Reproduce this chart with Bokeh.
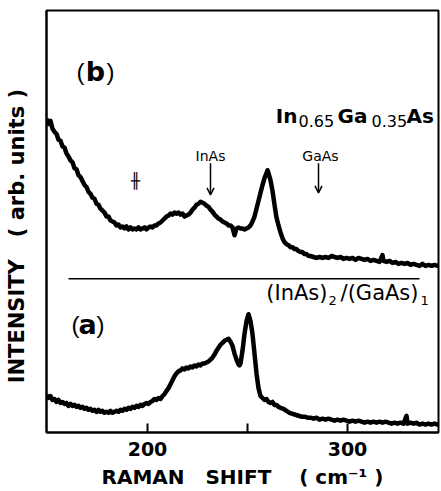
from bokeh.plotting import figure
from bokeh.models import Range1d, FixedTicker, Label, Arrow, OpenHead
from bokeh.embed import file_html
from bokeh.resources import INLINE

# ---------------- data ----------------
x_ticks = [200, 250, 300]
x_tick_labels = {200: "200", 250: "", 300: "300"}

# spectrum (b): In0.65Ga0.35As
b_shift = [149.5, 150.5, 151.5, 152.5, 153.5, 154.5, 155.5, 156.5, 157.5, 158.5, 159.5, 160.5,
           161.5, 162.5, 163.5, 164.5, 165.5, 166.5, 167.5, 168.5, 169.5, 170.5, 171.5, 172.5,
           173.5, 174.5, 175.5, 176.5, 177.5, 178.5, 179.5, 180.5, 181.5, 182.5, 183.5, 184.5,
           185.5, 186.5, 187.5, 188.5, 189.5, 190.5, 191.5, 192.5, 193.5, 194.5, 195.5, 196.5,
           197.5, 198.5, 199.5, 200.5, 201.5, 202.5, 203.5, 204.5, 205.5, 206.5, 207.5, 208.5,
           209.5, 210.5, 211.5, 212.5, 213.5, 214.5, 215.5, 216.5, 217.5, 218.5, 219.5, 220.5,
           221.5, 222.5, 223.5, 224.5, 225.5, 226.5, 227.5, 228.5, 229.5, 230.5, 231.5, 232.5,
           233.5, 234.5, 235.5, 236.5, 237.5, 238.5, 239.5, 240.5, 241.5, 242.5, 243.5, 244.5,
           245.5, 246.5, 247.5, 248.5, 249.5, 250.5, 251.5, 252.5, 253.5, 254.5, 255.5, 256.5,
           257.5, 258.5, 259.5, 260.0, 260.5, 261.5, 262.5, 263.5, 264.5, 265.5, 266.5, 267.5,
           268.5, 269.5, 270.5, 271.5, 272.5, 273.5, 274.5, 275.5, 276.5, 277.5, 278.5, 279.5,
           280.5, 281.5, 283.0, 284.5, 286.0, 287.5, 289.0, 290.5, 292.0, 293.5, 295.0, 296.5,
           298.0, 299.5, 301.0, 302.5, 304.0, 305.5, 307.0, 308.5, 310.0, 311.5, 313.0, 314.5,
           316.0, 317.5, 318.0, 319.5, 321.0, 322.5, 324.0, 325.5, 327.0, 328.5, 330.0, 331.5,
           333.0, 334.5, 336.0, 337.5, 339.0, 340.5, 342.0, 343.5, 345.0, 347.0]
b_intensity = [318, 313, 316, 308, 305, 303, 297, 296, 290, 289, 283, 280,
               276, 274, 268, 267, 261, 259, 255, 251, 249, 244, 242, 238,
               237, 232, 231, 227, 225, 223, 219, 219, 215, 214, 213, 210,
               211, 208, 209, 207, 209, 206, 208, 206, 207, 206, 208, 206,
               207, 208, 206, 208, 209, 208, 210, 210, 212, 213, 215, 217,
               219, 220, 222, 221, 223, 222, 223, 221, 222, 219, 220, 221,
               223, 226, 228, 231, 232, 234, 233, 232, 230, 229, 226, 224,
               221, 219, 217, 216, 214, 213, 212, 210, 210, 208, 200, 207,
               208, 207, 207, 206, 207, 208, 210, 214, 219, 227, 235, 243,
               251, 258, 263, 266, 263, 256, 245, 231, 218, 210, 203, 197,
               193, 191, 190, 188, 188, 186, 186, 184, 183, 183, 181, 181,
               179, 179, 178, 177, 178, 177, 178, 177, 179, 178, 177, 178,
               176, 177, 176, 177, 175, 177, 176, 175, 176, 174, 175, 174,
               173, 180, 174, 173, 174, 172, 173, 171, 172, 171, 172, 170,
               171, 170, 169, 171, 169, 170, 169, 170, 169, 170]

# spectrum (a): (InAs)2/(GaAs)1
a_shift = [149.5, 150.5, 151.5, 152.5, 153.5, 154.5, 155.5, 156.5, 157.5, 158.5, 159.5, 160.5,
           161.5, 162.5, 163.5, 164.5, 165.5, 166.5, 167.5, 168.5, 169.5, 170.5, 171.5, 172.5,
           173.5, 174.5, 175.5, 176.5, 177.5, 178.5, 179.5, 180.5, 181.5, 182.5, 183.5, 184.5,
           185.5, 186.5, 187.5, 188.5, 189.5, 190.5, 191.5, 192.5, 193.5, 194.5, 195.5, 196.5,
           197.5, 198.5, 199.5, 200.5, 201.5, 202.5, 203.5, 204.5, 205.5, 206.5, 207.5, 208.5,
           209.5, 210.5, 211.5, 212.5, 213.5, 214.5, 215.5, 216.5, 217.5, 218.5, 219.5, 220.5,
           221.5, 222.5, 223.5, 224.5, 225.5, 226.5, 227.5, 228.5, 229.5, 230.5, 231.5, 232.5,
           233.5, 234.5, 235.5, 236.5, 237.5, 238.5, 239.5, 240.5, 241.5, 242.5, 243.5, 244.5,
           245.5, 246.0, 246.5, 247.5, 248.5, 249.5, 250.5, 251.5, 252.5, 253.5, 254.5, 255.5,
           256.5, 257.5, 258.5, 259.5, 260.5, 261.5, 262.5, 263.5, 264.5, 265.5, 266.5, 268.0,
           269.5, 271.0, 272.5, 274.0, 275.5, 277.0, 278.5, 280.0, 281.5, 283.0, 284.5, 286.0,
           287.5, 289.0, 290.5, 292.0, 293.5, 295.0, 296.5, 298.0, 299.5, 301.0, 302.5, 304.0,
           305.5, 307.0, 308.5, 310.0, 311.5, 313.0, 314.5, 316.0, 317.5, 319.0, 320.5, 322.0,
           323.5, 325.0, 326.5, 328.0, 329.5, 330.0, 331.5, 333.0, 334.5, 336.0, 337.5, 339.0,
           340.5, 342.0, 343.5, 345.0, 347.0]
a_intensity = [38, 35, 37, 33, 34, 31, 33, 30, 31, 29, 30, 27,
               29, 27, 28, 26, 27, 25, 26, 24, 25, 23, 24, 22,
               23, 21, 23, 21, 22, 20, 21, 20, 22, 20, 21, 22,
               21, 23, 22, 24, 23, 25, 24, 26, 25, 27, 26, 28,
               27, 29, 30, 29, 31, 32, 34, 33, 35, 34, 37, 39,
               42, 45, 49, 53, 57, 60, 62, 63, 65, 64, 66, 65,
               67, 66, 68, 67, 69, 68, 70, 70, 71, 72, 74, 76,
               79, 83, 86, 89, 91, 93, 94, 95, 92, 88, 80, 74,
               69, 68, 70, 83, 100, 113, 120, 113, 100, 80, 60, 45,
               37, 35, 33, 34, 31, 30, 31, 28, 28, 26, 25, 24,
               22, 20, 19, 18, 17, 16, 16, 15, 15, 14, 15, 13,
               14, 13, 14, 13, 12, 13, 12, 13, 12, 11, 12, 11,
               12, 11, 10, 11, 10, 11, 10, 11, 10, 11, 10, 9,
               10, 9, 10, 9, 17, 9, 10, 9, 10, 8, 9, 8,
               9, 8, 9, 8, 8]

x_range = (149.5, 345.5)
y_range = (0, 428)

NB = "\u00a0"
x_title = "RAMAN" + NB * 3 + "SHIFT" + NB * 4 + "(" + NB + "cm\u207b\u00b9" + NB + ")"
y_title = "INTENSITY" + NB * 3 + "(" + NB + "arb. units" + NB + ")" + NB * 4

# ---------------- figure ----------------
p = figure(width=441, height=491, output_backend="svg", toolbar_location=None,
           x_range=Range1d(*x_range), y_range=Range1d(*y_range),
           min_border_left=46, min_border_right=3, min_border_top=10, min_border_bottom=53)
p.background_fill_color = "white"
p.border_fill_color = "white"
p.outline_line_color = "black"
p.outline_line_width = 2
p.grid.visible = False

ax = p.xaxis[0]
ax.ticker = FixedTicker(ticks=x_ticks)
ax.major_label_overrides = x_tick_labels
ax.major_tick_in = 9
ax.major_tick_out = 0
ax.minor_tick_line_color = None
ax.axis_line_width = 2
ax.major_tick_line_width = 2
ax.major_label_text_font = "DejaVu Sans"
ax.major_label_text_font_style = "bold"
ax.major_label_text_font_size = "19px"
ax.major_label_text_color = "black"
ax.major_label_standoff = 9
ax.axis_label = x_title
ax.axis_label_text_font = "DejaVu Sans"
ax.axis_label_text_font_style = "bold"
ax.axis_label_text_font_size = "20px"
ax.axis_label_text_color = "black"
ax.axis_label_standoff = 6

ay = p.yaxis[0]
ay.ticker = FixedTicker(ticks=[])
ay.major_tick_in = 0
ay.major_tick_out = 0
ay.minor_tick_line_color = None
ay.major_tick_line_color = None
ay.axis_line_width = 2
ay.major_label_standoff = 0
ay.axis_label = y_title
ay.axis_label_text_font = "DejaVu Sans"
ay.axis_label_text_font_style = "bold"
ay.axis_label_text_font_size = "21px"
ay.axis_label_text_color = "black"
ay.axis_label_standoff = 18

p.line(b_shift, b_intensity, line_width=4.5, color="black", line_join="round")
p.line(a_shift, a_intensity, line_width=4.5, color="black", line_join="round")

# separator between the two spectra
p.segment(x0=[160.5], y0=[156], x1=[336], y1=[156], line_width=1.5, color="black")


def lab(x, y, text, size, font="DejaVu Sans", style="normal", align="center",
        baseline="middle"):
    p.add_layout(Label(x=x, y=y, text=text, text_font=font, text_font_style=style,
                       text_font_size=size, text_align=align, text_baseline=baseline,
                       text_color="black"))


# panel tags
lab(166.5, 366, "(", "24px", font="Liberation Sans")
lab(174, 366, "b", "27px", style="bold")
lab(181.5, 366, ")", "24px", font="Liberation Sans")
lab(164, 110, "(", "24px", font="Liberation Sans")
lab(170, 110, "a", "27px", style="bold")
lab(176.5, 110, ")", "24px", font="Liberation Sans")

# composition label
lab(275, 321, "In", "20px", style="bold", align="right")
lab(275.5, 316, "0.65", "16px", align="left")
lab(295, 321, "Ga", "20px", style="bold", align="left")
lab(312, 316, "0.35", "16px", align="left")
lab(329.5, 321, "As", "20px", style="bold", align="left")

# superlattice label
lab(290, 141, "(InAs)", "21px", align="right")
lab(290.5, 134, "2", "13px", align="left")
lab(335.5, 141, "/(GaAs)", "21px", align="right")
lab(336.5, 134, "1", "13px", align="left")

# phonon markers
lab(231.5, 280, "InAs", "14px")
lab(286.5, 280, "GaAs", "14px")
p.add_layout(Arrow(end=OpenHead(size=7, line_width=1.5, line_color="black"),
                   x_start=231.5, y_start=273, x_end=231.5, y_end=241,
                   line_width=1.5, line_color="black"))
p.add_layout(Arrow(end=OpenHead(size=7, line_width=1.5, line_color="black"),
                   x_start=285.5, y_start=273, x_end=285.5, y_end=243,
                   line_width=1.5, line_color="black"))
lab(194, 255, "\u256b", "15px")

open("out.html", "w").write(file_html(p, INLINE))
